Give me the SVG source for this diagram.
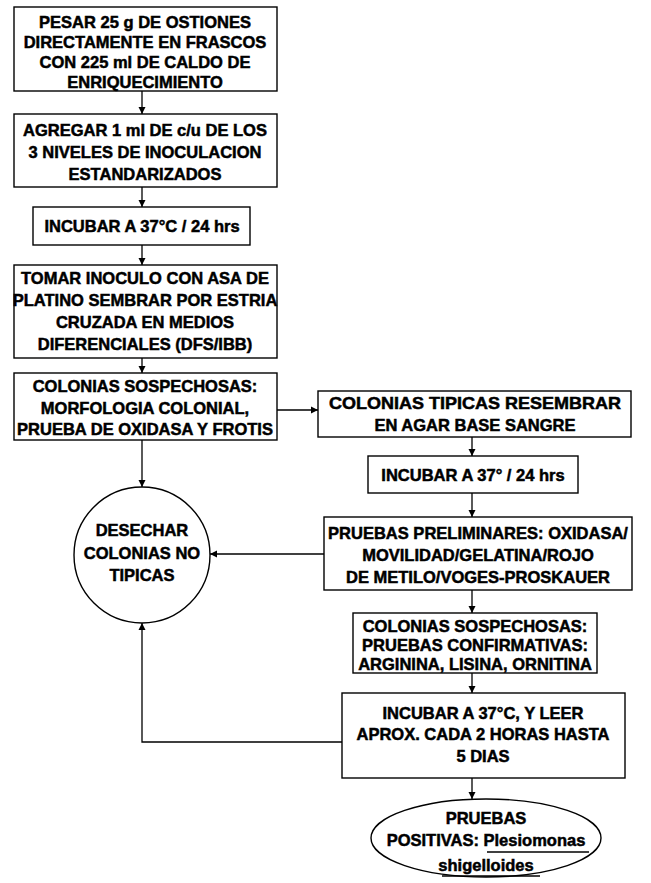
<svg xmlns="http://www.w3.org/2000/svg" width="651" height="883" viewBox="0 0 651 883">
<defs>
<marker id="ah" viewBox="0 0 10 10" refX="10" refY="5" markerWidth="7" markerHeight="8" markerUnits="userSpaceOnUse" orient="auto">
<path d="M0,0 L10,5 L0,10 z" fill="#000"/>
</marker>
<style>
.box{fill:#fff;stroke:#000;stroke-width:1.4}
.t{font-family:"Liberation Sans",Arial,sans-serif;font-weight:bold;font-size:16.5px;text-anchor:middle;fill:#000;stroke:#000;stroke-width:0.5}
.c{fill:none;stroke:#000;stroke-width:1.3}
</style>
</defs>
<rect width="651" height="883" fill="#fff"/>
<g id="connectors">
<line class="c" x1="142" y1="91" x2="142" y2="114" marker-end="url(#ah)"/>
<line class="c" x1="142" y1="187" x2="142" y2="207" marker-end="url(#ah)"/>
<line class="c" x1="142" y1="245" x2="142" y2="265" marker-end="url(#ah)"/>
<line class="c" x1="142" y1="358" x2="142" y2="373" marker-end="url(#ah)"/>
<line class="c" x1="142" y1="440" x2="142" y2="487" marker-end="url(#ah)"/>
<line class="c" x1="277" y1="410" x2="318" y2="410" marker-end="url(#ah)"/>
<line class="c" x1="472" y1="437" x2="472" y2="456" marker-end="url(#ah)"/>
<line class="c" x1="472" y1="493" x2="472" y2="517" marker-end="url(#ah)"/>
<line class="c" x1="324" y1="554" x2="210" y2="554" marker-end="url(#ah)"/>
<line class="c" x1="472" y1="590" x2="472" y2="613" marker-end="url(#ah)"/>
<line class="c" x1="472" y1="673" x2="472" y2="693" marker-end="url(#ah)"/>
<polyline class="c" points="342,742 142,742 142,623" marker-end="url(#ah)"/>
<line class="c" x1="472" y1="778" x2="472" y2="799" marker-end="url(#ah)"/>
</g>
<g id="n1">
<rect class="box" x="14" y="7" width="263" height="84"/>
<text class="t" x="145" y="28">PESAR 25 g DE OSTIONES</text>
<text class="t" x="145" y="48">DIRECTAMENTE EN FRASCOS</text>
<text class="t" x="145" y="68">CON 225 ml DE CALDO DE</text>
<text class="t" x="145" y="88">ENRIQUECIMIENTO</text>
</g>
<g id="n2">
<rect class="box" x="14" y="114" width="263" height="73"/>
<text class="t" x="145" y="136">AGREGAR 1 ml DE c/u DE LOS</text>
<text class="t" x="145" y="158">3 NIVELES DE INOCULACION</text>
<text class="t" x="145" y="180">ESTANDARIZADOS</text>
</g>
<g id="n3">
<rect class="box" x="33" y="207" width="217" height="38"/>
<text class="t" x="142" y="232">INCUBAR A 37°C / 24 hrs</text>
</g>
<g id="n4">
<rect class="box" x="14" y="265" width="263" height="93"/>
<text class="t" x="145" y="284">TOMAR INOCULO CON ASA DE</text>
<text class="t" x="145" y="306">PLATINO SEMBRAR POR ESTRIA</text>
<text class="t" x="145" y="328">CRUZADA EN MEDIOS</text>
<text class="t" x="145" y="350">DIFERENCIALES (DFS/IBB)</text>
</g>
<g id="n5">
<rect class="box" x="14" y="373" width="263" height="67"/>
<text class="t" x="145" y="392">COLONIAS SOSPECHOSAS:</text>
<text class="t" x="145" y="414">MORFOLOGIA COLONIAL,</text>
<text class="t" x="145" y="435">PRUEBA DE OXIDASA Y FROTIS</text>
</g>
<g id="n6">
<circle class="box" cx="142" cy="555" r="68"/>
<text class="t" x="142" y="536">DESECHAR</text>
<text class="t" x="142" y="559">COLONIAS NO</text>
<text class="t" x="142" y="581">TIPICAS</text>
</g>
<g id="n7">
<rect class="box" x="318" y="391" width="313" height="46"/>
<text class="t" x="475" y="409" textLength="292" lengthAdjust="spacingAndGlyphs">COLONIAS TIPICAS RESEMBRAR</text>
<text class="t" x="475" y="431">EN AGAR BASE SANGRE</text>
</g>
<g id="n8">
<rect class="box" x="368" y="456" width="210" height="37"/>
<text class="t" x="473" y="481">INCUBAR A 37° / 24 hrs</text>
</g>
<g id="n9">
<rect class="box" x="324" y="517" width="308" height="73"/>
<text class="t" x="478" y="539">PRUEBAS PRELIMINARES: OXIDASA/</text>
<text class="t" x="478" y="561">MOVILIDAD/GELATINA/ROJO</text>
<text class="t" x="478" y="583">DE METILO/VOGES-PROSKAUER</text>
</g>
<g id="n10">
<rect class="box" x="353" y="613" width="244" height="60"/>
<text class="t" x="475" y="632">COLONIAS SOSPECHOSAS:</text>
<text class="t" x="475" y="651">PRUEBAS CONFIRMATIVAS:</text>
<text class="t" x="475" y="670">ARGININA, LISINA, ORNITINA</text>
</g>
<g id="n11">
<rect class="box" x="342" y="693" width="283" height="85"/>
<text class="t" x="483" y="719">INCUBAR A 37°C, Y LEER</text>
<text class="t" x="483" y="740">APROX. CADA 2 HORAS HASTA</text>
<text class="t" x="483" y="762">5 DIAS</text>
</g>
<g id="n12">
<ellipse class="box" cx="486" cy="838" rx="115" ry="39"/>
<text class="t" x="486" y="824">PRUEBAS</text>
<text class="t" x="486" y="846">POSITIVAS: Plesiomonas</text>
<line class="c" x1="487" y1="852" x2="589" y2="852"/>
<text class="t" x="486" y="871">shigelloides</text>
<line class="c" x1="442" y1="876" x2="540" y2="876"/>
</g>
</svg>
